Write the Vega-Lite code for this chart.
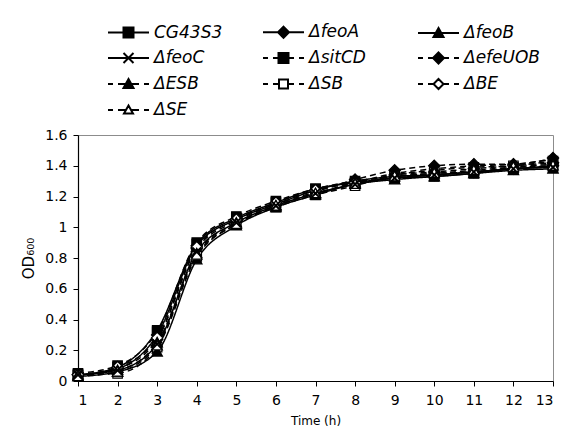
{
  "$schema": "https://vega.github.io/schema/vega-lite/v6.json",
  "width": 475,
  "height": 246,
  "autosize": {"type": "none"},
  "padding": {"left": 78, "top": 135, "right": 12, "bottom": 60},
  "background": "white",
  "config": {"view": {"stroke": "#8c8c8c", "strokeWidth": 1}, "font": "DejaVu Sans"},
  "datasets": {
    "od": [
      {"t":1,"series":"CG43S3","od":0.04},{"t":2,"series":"CG43S3","od":0.09},{"t":3,"series":"CG43S3","od":0.33},{"t":4,"series":"CG43S3","od":0.89},{"t":5,"series":"CG43S3","od":1.06},{"t":6,"series":"CG43S3","od":1.16},{"t":7,"series":"CG43S3","od":1.25},{"t":8,"series":"CG43S3","od":1.29},{"t":9,"series":"CG43S3","od":1.32},{"t":10,"series":"CG43S3","od":1.33},{"t":11,"series":"CG43S3","od":1.35},{"t":12,"series":"CG43S3","od":1.38},{"t":13,"series":"CG43S3","od":1.39},
      {"t":1,"series":"ΔfeoA","od":0.04},{"t":2,"series":"ΔfeoA","od":0.08},{"t":3,"series":"ΔfeoA","od":0.30},{"t":4,"series":"ΔfeoA","od":0.88},{"t":5,"series":"ΔfeoA","od":1.05},{"t":6,"series":"ΔfeoA","od":1.15},{"t":7,"series":"ΔfeoA","od":1.24},{"t":8,"series":"ΔfeoA","od":1.30},{"t":9,"series":"ΔfeoA","od":1.33},{"t":10,"series":"ΔfeoA","od":1.34},{"t":11,"series":"ΔfeoA","od":1.36},{"t":12,"series":"ΔfeoA","od":1.38},{"t":13,"series":"ΔfeoA","od":1.40},
      {"t":1,"series":"ΔfeoB","od":0.03},{"t":2,"series":"ΔfeoB","od":0.06},{"t":3,"series":"ΔfeoB","od":0.19},{"t":4,"series":"ΔfeoB","od":0.79},{"t":5,"series":"ΔfeoB","od":1.01},{"t":6,"series":"ΔfeoB","od":1.13},{"t":7,"series":"ΔfeoB","od":1.21},{"t":8,"series":"ΔfeoB","od":1.28},{"t":9,"series":"ΔfeoB","od":1.31},{"t":10,"series":"ΔfeoB","od":1.33},{"t":11,"series":"ΔfeoB","od":1.35},{"t":12,"series":"ΔfeoB","od":1.37},{"t":13,"series":"ΔfeoB","od":1.38},
      {"t":1,"series":"ΔfeoC","od":0.04},{"t":2,"series":"ΔfeoC","od":0.07},{"t":3,"series":"ΔfeoC","od":0.24},{"t":4,"series":"ΔfeoC","od":0.84},{"t":5,"series":"ΔfeoC","od":1.03},{"t":6,"series":"ΔfeoC","od":1.14},{"t":7,"series":"ΔfeoC","od":1.22},{"t":8,"series":"ΔfeoC","od":1.28},{"t":9,"series":"ΔfeoC","od":1.32},{"t":10,"series":"ΔfeoC","od":1.34},{"t":11,"series":"ΔfeoC","od":1.36},{"t":12,"series":"ΔfeoC","od":1.38},{"t":13,"series":"ΔfeoC","od":1.39},
      {"t":1,"series":"ΔsitCD","od":0.05},{"t":2,"series":"ΔsitCD","od":0.10},{"t":3,"series":"ΔsitCD","od":0.32},{"t":4,"series":"ΔsitCD","od":0.90},{"t":5,"series":"ΔsitCD","od":1.07},{"t":6,"series":"ΔsitCD","od":1.17},{"t":7,"series":"ΔsitCD","od":1.25},{"t":8,"series":"ΔsitCD","od":1.30},{"t":9,"series":"ΔsitCD","od":1.33},{"t":10,"series":"ΔsitCD","od":1.35},{"t":11,"series":"ΔsitCD","od":1.36},{"t":12,"series":"ΔsitCD","od":1.39},{"t":13,"series":"ΔsitCD","od":1.41},
      {"t":1,"series":"ΔefeUOB","od":0.04},{"t":2,"series":"ΔefeUOB","od":0.08},{"t":3,"series":"ΔefeUOB","od":0.27},{"t":4,"series":"ΔefeUOB","od":0.86},{"t":5,"series":"ΔefeUOB","od":1.04},{"t":6,"series":"ΔefeUOB","od":1.15},{"t":7,"series":"ΔefeUOB","od":1.23},{"t":8,"series":"ΔefeUOB","od":1.31},{"t":9,"series":"ΔefeUOB","od":1.37},{"t":10,"series":"ΔefeUOB","od":1.40},{"t":11,"series":"ΔefeUOB","od":1.41},{"t":12,"series":"ΔefeUOB","od":1.41},{"t":13,"series":"ΔefeUOB","od":1.45},
      {"t":1,"series":"ΔESB","od":0.04},{"t":2,"series":"ΔESB","od":0.07},{"t":3,"series":"ΔESB","od":0.25},{"t":4,"series":"ΔESB","od":0.83},{"t":5,"series":"ΔESB","od":1.03},{"t":6,"series":"ΔESB","od":1.14},{"t":7,"series":"ΔESB","od":1.22},{"t":8,"series":"ΔESB","od":1.29},{"t":9,"series":"ΔESB","od":1.35},{"t":10,"series":"ΔESB","od":1.38},{"t":11,"series":"ΔESB","od":1.40},{"t":12,"series":"ΔESB","od":1.41},{"t":13,"series":"ΔESB","od":1.44},
      {"t":1,"series":"ΔSB","od":0.04},{"t":2,"series":"ΔSB","od":0.05},{"t":3,"series":"ΔSB","od":0.22},{"t":4,"series":"ΔSB","od":0.81},{"t":5,"series":"ΔSB","od":1.02},{"t":6,"series":"ΔSB","od":1.13},{"t":7,"series":"ΔSB","od":1.21},{"t":8,"series":"ΔSB","od":1.27},{"t":9,"series":"ΔSB","od":1.34},{"t":10,"series":"ΔSB","od":1.37},{"t":11,"series":"ΔSB","od":1.39},{"t":12,"series":"ΔSB","od":1.40},{"t":13,"series":"ΔSB","od":1.43},
      {"t":1,"series":"ΔBE","od":0.04},{"t":2,"series":"ΔBE","od":0.09},{"t":3,"series":"ΔBE","od":0.28},{"t":4,"series":"ΔBE","od":0.87},{"t":5,"series":"ΔBE","od":1.05},{"t":6,"series":"ΔBE","od":1.16},{"t":7,"series":"ΔBE","od":1.24},{"t":8,"series":"ΔBE","od":1.29},{"t":9,"series":"ΔBE","od":1.34},{"t":10,"series":"ΔBE","od":1.36},{"t":11,"series":"ΔBE","od":1.38},{"t":12,"series":"ΔBE","od":1.40},{"t":13,"series":"ΔBE","od":1.42},
      {"t":1,"series":"ΔSE","od":0.03},{"t":2,"series":"ΔSE","od":0.06},{"t":3,"series":"ΔSE","od":0.23},{"t":4,"series":"ΔSE","od":0.82},{"t":5,"series":"ΔSE","od":1.02},{"t":6,"series":"ΔSE","od":1.14},{"t":7,"series":"ΔSE","od":1.22},{"t":8,"series":"ΔSE","od":1.28},{"t":9,"series":"ΔSE","od":1.33},{"t":10,"series":"ΔSE","od":1.35},{"t":11,"series":"ΔSE","od":1.37},{"t":12,"series":"ΔSE","od":1.39},{"t":13,"series":"ΔSE","od":1.40}
    ]
  },
  "data": {"name": "od"},
  "encoding": {
    "x": {"field": "t", "type": "quantitative", "scale": {"domain": [1, 13], "nice": false},
      "axis": {"title": "Time (h)", "values": [1,2,3,4,5,6,7,8,9,10,11,12,13], "grid": false, "domainColor": "black", "domainWidth": 1.2, "tickColor": "black", "tickSize": 5, "labelFontSize": 14, "labelColor": "black", "labelPadding": 7, "titleFontSize": 12, "titleFontWeight": "normal", "titleColor": "black", "titlePadding": 8}},
    "y": {"field": "od", "type": "quantitative", "scale": {"domain": [0, 1.6], "nice": false},
      "axis": {"title": "OD₆₀₀", "values": [0,0.2,0.4,0.6,0.8,1,1.2,1.4,1.6], "format": "~g", "grid": false, "domainColor": "black", "domainWidth": 1.2, "tickColor": "black", "tickSize": 5, "labelFontSize": 14, "labelColor": "black", "labelPadding": 6, "titleFontSize": 15, "titleFontWeight": "normal", "titleColor": "black", "titlePadding": 8}}
  },
  "layer": [
    {
      "mark": {"type": "point", "opacity": 0, "strokeWidth": 2},
      "encoding": {
        "shape": {"field": "series", "type": "nominal", "title": null,
          "scale": {"domain": ["CG43S3","ΔfeoC","ΔESB","ΔBE","ΔfeoA","ΔsitCD","ΔSB","ΔSE","ΔfeoB","ΔefeUOB"],
                    "range": [
                      "M-1,0H0.9375M2.1875,0H4.125M0.9375,-0.625H2.1875V0.625H0.9375Z",
                      "M-1,0H4.125M0.9375,-0.625L2.1875,0.625M0.9375,0.625L2.1875,-0.625",
                      "M-1,0H-0.375M0.25,0H1.215M1.91,0H2.875M3.5,0H4.125M1.5625,-0.625L2.1875,0.5H0.9375Z",
                      "M-1,0H-0.375M0.25,0H0.94M2.19,0H2.875M3.5,0H4.125M1.5625,-0.625L2.19,0L1.5625,0.625L0.94,0Z",
                      "M-1,0H0.875M2.25,0H4.125M1.5625,-0.6875L2.25,0L1.5625,0.6875L0.875,0Z",
                      "M-1,0H-0.375M0.25,0H0.9375M2.1875,0H2.875M3.5,0H4.125M0.9375,-0.625H2.1875V0.625H0.9375Z",
                      "M-1,0H-0.375M0.25,0H1.0M2.125,0H2.875M3.5,0H4.125M1.0,-0.5625H2.125V0.5625H1.0Z",
                      "M-1,0H-0.375M0.25,0H1.25M1.875,0H2.875M3.5,0H4.125M1.5625,-0.5625L2.125,0.4375H1.0Z",
                      "M-1,0H1.215M1.91,0H4.125M1.5625,-0.625L2.1875,0.5H0.9375Z",
                      "M-1,0H-0.375M0.25,0H0.875M2.25,0H2.875M3.5,0H4.125M1.5625,-0.6875L2.25,0L1.5625,0.6875L0.875,0Z"
                    ]},
          "legend": {"orient": "none", "legendX": 29, "legendY": -112, "columns": 3, "gridAlign": "all", "columnPadding": 28, "rowPadding": 6, "symbolSize": 256, "symbolStrokeColor": "black", "symbolStrokeWidth": 2, "symbolOpacity": 1, "labelFontSize": 17, "labelFontStyle": "italic", "labelColor": "black", "labelOffset": 29, "labelLimit": 200}},
        "fill": {"field": "series", "type": "nominal", "title": null,
          "scale": {"domain": ["CG43S3","ΔfeoC","ΔESB","ΔBE","ΔfeoA","ΔsitCD","ΔSB","ΔSE","ΔfeoB","ΔefeUOB"],
                    "range": ["black","black","black","white","black","black","white","white","black","black"]},
          "legend": {"orient": "none", "legendX": 29, "legendY": -112, "columns": 3, "gridAlign": "all", "columnPadding": 28, "rowPadding": 6, "symbolSize": 256, "symbolStrokeColor": "black", "symbolStrokeWidth": 2, "symbolOpacity": 1, "labelFontSize": 17, "labelFontStyle": "italic", "labelColor": "black", "labelOffset": 29, "labelLimit": 200}},
        "stroke": {"field": "series", "type": "nominal", "title": null,
          "scale": {"domain": ["CG43S3","ΔfeoC","ΔESB","ΔBE","ΔfeoA","ΔsitCD","ΔSB","ΔSE","ΔfeoB","ΔefeUOB"],
                    "range": ["black","black","black","black","black","black","black","black","black","black"]},
          "legend": {"orient": "none", "legendX": 29, "legendY": -112, "columns": 3, "gridAlign": "all", "columnPadding": 28, "rowPadding": 6, "symbolSize": 256, "symbolStrokeColor": "black", "symbolStrokeWidth": 2, "symbolOpacity": 1, "labelFontSize": 17, "labelFontStyle": "italic", "labelColor": "black", "labelOffset": 29, "labelLimit": 200}}
      }
    },
    {
      "mark": {"type": "line", "color": "black", "strokeWidth": 1.5, "interpolate": "monotone"},
      "encoding": {
        "detail": {"field": "series"},
        "strokeDash": {"field": "series", "type": "nominal",
          "scale": {"domain": ["CG43S3","ΔfeoA","ΔfeoB","ΔfeoC","ΔsitCD","ΔefeUOB","ΔESB","ΔSB","ΔBE","ΔSE"],
                    "range": [[1,0],[1,0],[1,0],[1,0],[6,4],[6,4],[6,4],[6,4],[6,4],[6,4]]},
          "legend": null}
      }
    },
    {
      "transform": [{"filter": "indexof(['CG43S3','ΔsitCD','ΔSB'], datum.series) >= 0"}],
      "mark": {"type": "point", "shape": "M-1,-1H1V1H-1Z", "size": 90, "stroke": "black", "strokeWidth": 1.2, "opacity": 1},
      "encoding": {"fill": {"condition": {"test": "datum.series === 'ΔSB'", "value": "white"}, "value": "black"}}
    },
    {
      "transform": [{"filter": "indexof(['ΔfeoA','ΔefeUOB','ΔBE'], datum.series) >= 0"}],
      "mark": {"type": "point", "shape": "M0,-1.2L1.2,0L0,1.2L-1.2,0Z", "size": 90, "stroke": "black", "strokeWidth": 1.2, "opacity": 1},
      "encoding": {"fill": {"condition": {"test": "datum.series === 'ΔBE'", "value": "white"}, "value": "black"}}
    },
    {
      "transform": [{"filter": "indexof(['ΔfeoB','ΔESB','ΔSE'], datum.series) >= 0"}],
      "mark": {"type": "point", "shape": "M0,-1.1L1.1,0.9H-1.1Z", "size": 90, "stroke": "black", "strokeWidth": 1.2, "opacity": 1},
      "encoding": {"fill": {"condition": {"test": "datum.series === 'ΔSE'", "value": "white"}, "value": "black"}}
    },
    {
      "transform": [{"filter": "datum.series === 'ΔfeoC'"}],
      "mark": {"type": "point", "shape": "M-1,-1L1,1M-1,1L1,-1", "size": 80, "stroke": "black", "strokeWidth": 2, "opacity": 1, "filled": false}
    }
  ]
}
